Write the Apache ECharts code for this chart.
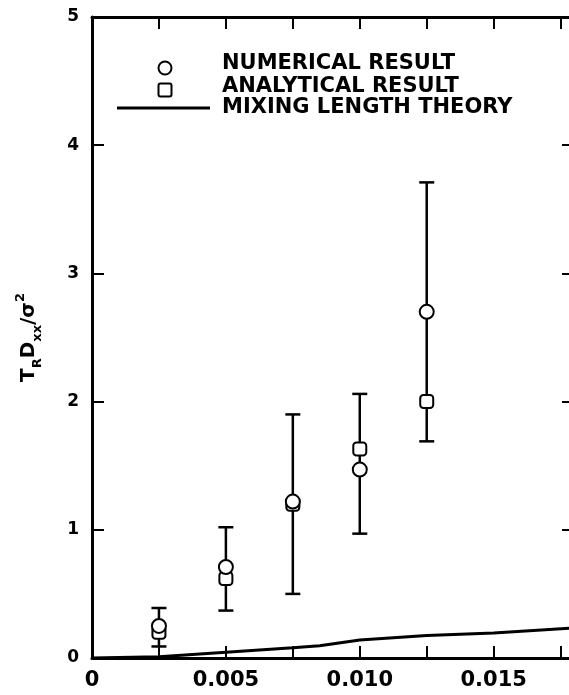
<!DOCTYPE html>
<html>
<head>
<meta charset="utf-8">
<script src="https://cdn.jsdelivr.net/npm/echarts@6/dist/echarts.min.js"></script>
<style>
  html, body { margin: 0; padding: 0; background: #fff; }
  #chart { width: 569px; height: 695px; }
</style>
</head>
<body>
<div id="chart"></div>
<script>
// x positions of the measured points
const xPoints = [0.0025, 0.005, 0.0075, 0.010, 0.0125]
const numerical = [0.25, 0.71, 1.22, 1.47, 2.70]
const analytical = [0.20, 0.62, 1.20, 1.63, 2.00]
const errLow = [0.09, 0.37, 0.50, 0.97, 1.69]
const errHigh = [0.39, 1.02, 1.90, 2.06, 3.71]

// mixing length theory curve
const mixX = [0, 0.0025, 0.005, 0.0075, 0.0085, 0.010, 0.0125, 0.015, 0.018]
const mixY = [0, 0.01, 0.045, 0.08, 0.095, 0.14, 0.175, 0.195, 0.235]

const legendNames = ['NUMERICAL RESULT', 'ANALYTICAL RESULT', 'MIXING LENGTH THEORY']

const font = 'DejaVu Sans'
const chart = echarts.init(document.getElementById('chart'))

function xLabel(v) {
  if (v === 0) return '0'
  const k = v / 0.005
  if (Math.abs(k - Math.round(k)) < 1e-6) return v.toFixed(3)
  return ''
}

const axisLine = { show: true, onZero: false, lineStyle: { color: '#000', width: 3 } }
const axisTick = { show: true, inside: true, length: 12, lineStyle: { color: '#000', width: 2 } }

const option = {
  animation: false,
  // the right edge of the plot runs just past the picture
  grid: { left: 92, top: 17, width: 482, height: 641, outerBoundsMode: 'none', containLabel: false },
  xAxis: [
    {
      type: 'value', min: 0, max: 0.018, interval: 0.0025, position: 'bottom',
      axisLine, axisTick, splitLine: { show: false },
      axisLabel: { formatter: xLabel, margin: 12, color: '#000', fontFamily: font, fontWeight: 'bold', fontSize: 21 }
    },
    {
      type: 'value', min: 0, max: 0.018, interval: 0.0025, position: 'top',
      axisLine, axisTick, splitLine: { show: false }, axisLabel: { show: false }
    }
  ],
  yAxis: [
    {
      type: 'value', min: 0, max: 5, interval: 1, position: 'left',
      axisLine, axisTick, splitLine: { show: false },
      axisLabel: { margin: 13, color: '#000', fontFamily: font, fontWeight: 'bold', fontSize: 17 },
      name: '{n|T}{sub|R}{n|D}{sub|xx}{n|/σ}{sup|2}',
      nameLocation: 'middle', nameGap: 48, nameRotate: 90,
      nameTextStyle: {
        color: '#000',
        rich: {
          n: { fontFamily: font, fontWeight: 'bold', fontSize: 20, lineHeight: 30, verticalAlign: 'middle', color: '#000' },
          sub: { fontFamily: font, fontWeight: 'bold', fontSize: 13, lineHeight: 13, verticalAlign: 'bottom', color: '#000' },
          sup: { fontFamily: font, fontWeight: 'bold', fontSize: 13, lineHeight: 13, verticalAlign: 'top', color: '#000' }
        }
      }
    },
    {
      type: 'value', min: 0, max: 5, interval: 1, position: 'right',
      axisLine, axisTick, splitLine: { show: false }, axisLabel: { show: false }
    }
  ],
  graphic: [
    { type: 'circle', shape: { cx: 165, cy: 68, r: 6.5 }, style: { fill: '#fff', stroke: '#000', lineWidth: 2 } },
    { type: 'rect', shape: { x: 158.5, y: 83.5, width: 13, height: 13, r: 2 }, style: { fill: '#fff', stroke: '#000', lineWidth: 2 } },
    { type: 'line', shape: { x1: 117, y1: 108, x2: 210, y2: 108 }, style: { stroke: '#000', lineWidth: 3 } },
    { type: 'text', x: 222, y: 64, style: { text: legendNames[0], font: 'bold 21px "DejaVu Sans"', fill: '#000', verticalAlign: 'middle' } },
    { type: 'text', x: 222, y: 87, style: { text: legendNames[1], font: 'bold 21px "DejaVu Sans"', fill: '#000', verticalAlign: 'middle' } },
    { type: 'text', x: 222, y: 108, style: { text: legendNames[2], font: 'bold 21px "DejaVu Sans"', fill: '#000', verticalAlign: 'middle' } }
  ],
  series: [
    {
      name: 'error',
      type: 'custom',
      data: xPoints.map((x, i) => [x, errLow[i], errHigh[i]]),
      z: 1,
      renderItem: function (params, api) {
        const lo = api.coord([api.value(0), api.value(1)])
        const hi = api.coord([api.value(0), api.value(2)])
        const half = 7.5
        const style = { stroke: '#000', lineWidth: 2.5 }
        return {
          type: 'group',
          children: [
            { type: 'line', shape: { x1: lo[0], y1: lo[1], x2: hi[0], y2: hi[1] }, style },
            { type: 'line', shape: { x1: lo[0] - half, y1: lo[1], x2: lo[0] + half, y2: lo[1] }, style },
            { type: 'line', shape: { x1: hi[0] - half, y1: hi[1], x2: hi[0] + half, y2: hi[1] }, style }
          ]
        }
      }
    },
    {
      name: legendNames[2],
      type: 'line',
      data: mixX.map((x, i) => [x, mixY[i]]),
      showSymbol: false,
      symbol: 'none',
      lineStyle: { color: '#000', width: 3 },
      z: 2
    },
    {
      name: legendNames[1],
      type: 'scatter',
      data: xPoints.map((x, i) => [x, analytical[i]]),
      symbol: 'roundRect',
      symbolSize: 13,
      itemStyle: { color: '#fff', borderColor: '#000', borderWidth: 2, opacity: 1 },
      z: 3
    },
    {
      name: legendNames[0],
      type: 'scatter',
      data: xPoints.map((x, i) => [x, numerical[i]]),
      symbol: 'circle',
      symbolSize: 14,
      itemStyle: { color: '#fff', borderColor: '#000', borderWidth: 2, opacity: 1 },
      z: 4
    }
  ]
}
chart.setOption(option)
</script>
</body>
</html>
